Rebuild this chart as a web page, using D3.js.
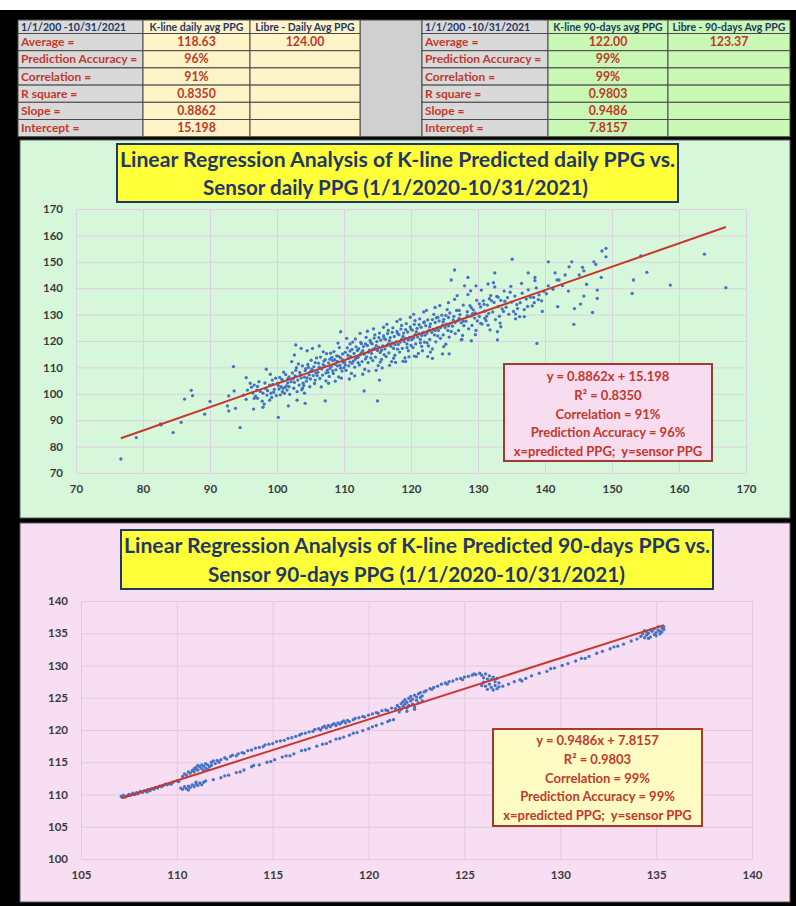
<!DOCTYPE html>
<html>
<head>
<meta charset="utf-8">
<script src="https://cdn.jsdelivr.net/npm/d3@7"></script>
<style>
  html, body { margin: 0; padding: 0; background: #000; }
  svg { display: block; }
</style>
</head>
<body>
<svg id="chart" width="796" height="906"></svg>
<script>
// ---------------- summary tables ----------------
const periodLabel = "1/1/200 -10/31/2021";
const statLabels = ["Average =", "Prediction Accuracy =", "Correlation =", "R square =", "Slope =", "Intercept ="];
const dailyHeaders = ["K-line daily avg PPG", "Libre - Daily Avg PPG"];
const dailyKline = ["118.63", "96%", "91%", "0.8350", "0.8862", "15.198"];
const dailyLibre = ["124.00", "", "", "", "", ""];
const ninetyHeaders = ["K-line 90-days avg PPG", "Libre - 90-days Avg PPG"];
const ninetyKline = ["122.00", "99%", "99%", "0.9803", "0.9486", "7.8157"];
const ninetyLibre = ["123.37", "", "", "", "", ""];

// ---------------- regression results ----------------
const dailySlope = 0.8862, dailyIntercept = 15.198, dailyR2 = 0.8350, dailyCorr = 91, dailyAcc = 96;
const ninetySlope = 0.9486, ninetyIntercept = 7.8157, ninetyR2 = 0.9803, ninetyCorr = 99, ninetyAcc = 99;

// ---------------- axis ticks ----------------
const dailyTicks = [70, 80, 90, 100, 110, 120, 130, 140, 150, 160, 170];
const ninetyTicks = [105, 110, 115, 120, 125, 130, 135, 140];
const ninetyYTicks = [100, 105, 110, 115, 120, 125, 130, 135, 140];

const dailyTitle = ["Linear Regression Analysis of K-line Predicted daily PPG vs.", "Sensor daily PPG (1/1/2020-10/31/2021)"];
const ninetyTitle = ["Linear Regression Analysis of K-line Predicted 90-days PPG vs.", "Sensor 90-days PPG (1/1/2020-10/31/2021)"];

// ---------------- daily PPG: [predicted, sensor] ----------------
const dailyPoints = [
[76.7,75.3],[79.0,83.4],[82.6,88.6],[82.7,88.2],[84.5,85.3],[85.7,89.2],[86.2,98.0],[87.2,101.3],[87.4,99.3],[89.2,92.3],
[90.0,97.1],[92.6,95.4],[92.8,99.2],[92.8,93.5],[93.5,110.3],[93.6,101.1],[93.8,94.5],[94.5,87.2],[95.0,99.5],[95.4,106.1],
[95.4,97.9],[95.6,101.4],[96.0,104.0],[96.5,94.2],[96.6,103.3],[96.6,98.3],[97.0,101.4],[97.1,98.3],[97.9,94.9],[98.1,96.1],
[97.9,100.2],[98.4,109.3],[98.5,99.5],[98.9,97.6],[98.9,103.3],[99.0,107.4],[99.1,100.2],[99.3,105.2],[100.1,104.0],[100.2,91.1],
[100.6,102.7],[100.8,100.8],[101.1,100.2],[101.5,101.4],[101.7,95.4],[101.8,102.7],[102.2,112.2],[102.6,114.7],[102.8,118.5],[103.0,97.6],
[103.0,100.8],[103.6,117.2],[103.8,102.1],[104.1,100.2],[104.2,96.4],[104.5,116.3],[105.3,117.2],[106.3,118.1],[107.2,97.3],[113.0,101.1],
[115.0,97.3],[115.3,105.2],[109.5,123.5],
[96.2,102.5],[96.8,99.1],[97.3,104.6],[97.5,100.9],[97.8,97.2],[96.4,100.3],[97.1,102.8],
[98.2,104.1],[98.6,101.2],[99.2,98.6],[99.4,103.6],[99.6,101.7],[99.8,105.9],[98.3,102.0],[99.9,99.4],[99.5,100.6],
[100.2,103.1],[100.4,106.2],[100.5,99.6],[100.9,104.9],[101.2,102.4],[101.3,107.3],[101.6,104.1],[101.9,99.8],[100.7,105.5],[101.4,103.0],[101.8,106.4],[100.3,101.8],[101.0,108.2],
[102.1,104.6],[102.3,107.9],[102.5,102.1],[102.7,106.8],[102.9,109.9],[103.1,105.2],[103.3,103.3],[103.4,108.1],[103.6,106.0],[103.8,110.6],[103.9,104.0],[102.4,105.7],[103.2,111.3],[103.7,101.5],[102.8,108.9],
[104.1,106.3],[104.3,109.5],[104.4,104.8],[104.6,111.1],[104.8,107.2],[105.0,105.6],[105.1,112.7],[105.3,108.6],[105.5,110.2],[105.6,103.9],[105.8,107.9],[105.9,113.6],[104.2,108.8],[104.9,102.7],[105.4,106.9],[105.7,111.8],[104.7,110.0],[105.2,109.3],
[106.1,108.2],[106.2,111.6],[106.4,105.8],[106.5,113.9],[106.7,109.4],[106.8,107.1],[107.0,112.4],[107.1,110.5],[107.3,104.9],[107.4,115.2],[107.5,109.0],[107.7,111.7],[107.8,106.6],[107.9,113.1],[106.3,110.1],[106.9,115.9],[107.6,108.1],[106.6,102.6],[107.2,112.9],[107.7,104.0],
[108.1,110.3],[108.2,113.8],[108.4,107.7],[108.5,116.0],[108.6,111.2],[108.8,109.1],[108.9,114.4],[109.0,112.3],[109.2,106.4],[109.3,117.5],[109.4,110.8],[109.5,113.6],[109.7,108.6],[109.8,115.1],[109.9,111.9],[108.3,112.6],[108.7,104.8],[109.1,119.2],[109.6,105.9],[108.0,115.4],[109.2,114.2],
[110.1,112.0],[110.2,115.7],[110.3,108.9],[110.5,117.4],[110.6,113.3],[110.7,110.6],[110.9,116.2],[111.0,114.1],[111.1,107.7],[111.3,119.6],[111.4,112.4],[111.5,115.3],[111.6,110.1],[111.8,117.8],[111.9,113.7],[110.4,121.0],[110.8,105.6],[111.2,111.5],[111.7,120.8],[110.0,109.9],[111.6,106.8],[110.9,118.9],
[112.1,113.8],[112.2,117.1],[112.3,110.9],[112.5,119.5],[112.6,115.6],[112.7,112.2],[112.9,117.9],[113.0,115.0],[113.1,109.3],[113.3,121.4],[113.4,114.0],[113.5,118.3],[113.6,111.8],[113.8,116.5],[113.9,120.2],[112.4,122.9],[112.8,107.4],[113.2,113.2],[113.7,108.6],[112.0,116.4],[113.5,123.7],[112.6,119.0],
[114.1,115.3],[114.2,118.9],[114.3,112.6],[114.5,121.1],[114.6,117.2],[114.7,113.9],[114.9,119.8],[115.0,116.4],[115.1,110.7],[115.3,123.0],[115.4,115.6],[115.5,120.3],[115.6,113.0],[115.8,118.1],[115.9,121.9],[114.4,124.6],[114.8,108.9],[115.2,117.7],[115.7,109.8],[114.0,119.4],[115.9,125.2],[114.6,122.3],[115.4,112.0],
[116.1,117.0],[116.2,120.6],[116.3,114.1],[116.5,122.8],[116.6,118.9],[116.7,115.5],[116.9,121.3],[117.0,118.0],[117.1,112.2],[117.3,125.0],[117.4,117.2],[117.5,121.7],[117.6,114.6],[117.8,119.7],[117.9,123.6],[116.4,126.3],[116.8,110.8],[117.2,119.2],[117.7,111.9],[116.0,121.0],[117.9,127.4],[116.6,124.0],[117.4,113.5],
[118.1,118.7],[118.2,122.4],[118.3,115.8],[118.5,124.5],[118.6,120.6],[118.7,117.2],[118.9,123.0],[119.0,119.8],[119.1,113.6],[119.3,126.6],[119.4,118.9],[119.5,123.4],[119.6,116.3],[119.8,121.4],[119.9,125.3],[118.4,128.2],[118.8,112.3],[119.2,121.0],[119.7,114.0],[118.0,122.9],[119.9,129.0],[118.6,125.9],[119.4,117.5],
[120.1,120.5],[120.2,124.1],[120.3,117.5],[120.5,126.3],[120.6,122.4],[120.7,118.9],[120.9,124.8],[121.0,121.5],[121.1,115.3],[121.3,128.4],[121.4,120.6],[121.5,125.2],[121.6,118.0],[121.8,123.2],[121.9,127.0],[120.4,130.1],[120.8,114.1],[121.2,122.7],[121.7,116.3],[120.0,124.5],[121.9,131.0],[120.6,127.7],[121.4,119.3],
[122.1,122.2],[122.2,125.8],[122.4,119.3],[122.5,128.0],[122.7,124.1],[122.8,120.6],[122.9,126.5],[123.1,123.3],[123.2,117.0],[123.4,130.1],[123.5,122.3],[123.6,127.0],[123.7,119.7],[123.9,125.0],[122.3,131.6],[122.9,115.8],[123.3,124.4],[123.8,128.8],[122.0,127.2],[123.6,132.7],[122.6,118.1],
[124.1,124.0],[124.2,127.6],[124.4,121.0],[124.6,129.8],[124.7,125.9],[124.8,122.3],[124.9,128.2],[125.1,125.1],[125.2,118.8],[125.4,131.9],[125.5,124.0],[125.6,128.9],[125.7,121.5],[125.9,126.7],[124.3,133.4],[124.9,117.9],[125.3,126.4],[125.8,130.6],[124.0,129.0],[125.6,134.5],
[126.2,125.6],[126.4,129.3],[126.6,122.8],[126.8,131.6],[127.0,127.7],[127.1,124.0],[127.3,130.0],[127.5,126.9],[127.6,120.6],[127.8,133.6],[127.9,125.8],[126.5,135.8],[127.2,128.6],[127.7,122.1],[126.9,137.2],[126.3,128.0],
[128.2,127.5],[128.4,131.1],[128.6,124.6],[128.8,133.4],[129.0,129.5],[129.1,125.9],[129.3,131.8],[129.5,128.7],[129.6,122.4],[129.8,135.4],[129.9,127.6],[128.5,137.6],[129.2,130.4],[128.9,139.0],[129.7,124.0],
[130.2,129.3],[130.4,132.9],[130.6,126.4],[130.8,135.2],[131.0,131.3],[131.2,127.7],[131.4,133.6],[131.6,130.5],[131.8,124.2],[131.9,137.2],[130.5,139.3],[131.3,129.4],[130.9,133.9],[131.7,136.0],
[132.2,131.0],[132.4,134.6],[132.6,128.1],[132.8,136.9],[133.0,133.0],[133.2,129.4],[133.4,135.4],[133.6,132.2],[133.9,138.9],[132.5,140.5],[133.3,126.8],[133.8,131.2],
[134.2,132.8],[134.4,136.4],[134.6,130.1],[134.8,138.5],[135.0,134.7],[135.3,131.2],[135.5,137.0],[135.8,133.8],[134.9,140.7],[135.6,128.4],
[136.3,134.5],[136.6,138.1],[136.9,131.9],[137.2,135.9],[137.5,139.4],[137.8,136.6],[136.5,141.8],[137.4,133.1],
[138.3,136.5],[138.7,140.1],[139.1,137.5],[139.5,135.2],[139.8,138.8],[138.5,142.9],
[126.5,146.9],[126.0,143.1],[128.5,144.1],[128.0,140.9],[129.7,140.9],[131.5,141.6],[132.5,145.8],[132.3,142.1],[135.1,151.0],[137.5,145.8],
[138.5,144.1],[140.5,150.0],[141.5,145.8],[143.0,145.0],[145.1,145.0],[140.5,140.9],[141.8,143.1],[142.1,143.1],[144.0,150.0],[143.6,148.1],
[145.6,147.9],[145.8,146.6],[147.3,150.0],[147.6,149.0],[148.4,144.1],[148.5,154.1],[149.1,155.1],[149.1,151.9],[153.2,143.1],[155.2,146.0],
[154.3,152.2],[158.7,141.2],[163.8,152.9],[167.0,140.2],[153.0,138.0],[147.8,139.3],[147.8,136.1],[145.8,137.0],[145.3,134.0],[144.4,132.3],
[147.1,130.8],[144.3,126.3],[143.5,138.9],[138.4,134.5],[139.0,135.7],[138.1,133.3],[135.6,130.2],[136.2,129.2],[136.9,129.2],[135.9,132.3],
[132.9,123.5],[133.4,125.4],[131.5,126.0],[130.4,126.7],[138.8,119.1],[132.9,120.4],[127.5,120.4],[129.0,120.1],[124.7,115.1],[125.7,115.1],
[122.5,114.1],[123.2,113.4],[119.2,112.2],[120.5,114.3],[140.2,137.9],[141.2,139.6],[142.6,141.0],[139.6,131.2],[141.9,133.0],[146.2,141.5],
[100.9,102.1],[101.6,105.6],[102.6,104.3],[103.5,107.2],[104.0,103.1],[104.5,106.0],[105.0,108.4],[105.7,105.2],[106.0,106.9],[106.4,109.9],
[106.9,111.0],[107.3,107.9],[107.9,109.6],[108.3,108.7],[108.6,112.9],[109.0,110.6],[109.5,109.7],[109.8,112.8],[110.2,110.9],[110.6,114.6],
[110.9,112.0],[111.2,116.8],[111.7,113.1],[112.1,111.8],[112.4,114.8],[112.8,116.3],[113.2,118.9],[113.6,115.7],[114.0,113.6],[114.3,116.8],
[114.8,118.2],[115.2,121.3],[115.6,116.5],[116.0,114.8],[116.4,118.2],[116.8,120.1],[117.2,123.3],[117.6,118.6],[118.0,116.9],[118.4,119.6],
[118.8,121.7],[119.2,124.3],[119.6,120.4],[120.0,118.3],[120.4,121.1],[120.8,123.5],[121.2,126.2],[121.6,122.1],[122.0,119.6],[122.4,123.0],
[122.8,125.4],[123.2,128.1],[123.6,124.0],[124.0,121.9],[124.4,125.1],[124.8,127.2],[125.2,129.7],[125.6,125.7],[126.0,123.6],[126.6,127.0],
[127.2,131.6],[127.8,127.5],[128.4,129.6],[129.0,132.6],[129.6,130.6],[130.2,134.1],[131.0,128.6],[132.0,135.3],[133.0,136.6],[134.0,135.1]
];

// ---------------- 90-days PPG: [predicted, sensor] ----------------
const ninetyPoints = [
[107.1,109.7],[107.2,109.9],[107.3,109.6],[107.4,109.8],[107.5,110.0],[107.6,109.9],[107.7,110.2],[107.8,110.0],[107.9,110.3],[108.0,110.2],
[108.1,110.5],[108.2,110.3],[108.3,110.6],[108.4,110.5],[108.5,110.8],[108.6,110.6],[108.7,110.9],[108.8,110.8],[108.9,111.1],[109.0,111.0],
[109.1,111.3],[109.2,111.2],[109.3,111.4],[109.5,111.5],[109.6,111.7],[109.7,111.6],[109.8,111.9],[110.0,112.1],[110.1,112.0],[109.4,111.6],
[108.45,110.4],[107.95,110.1],
[110.3,112.8],[110.4,113.2],[110.5,113.0],[110.6,113.5],[110.7,113.3],[110.8,113.7],[110.9,113.5],[111.0,113.9],[111.0,114.2],[111.1,113.8],
[111.2,114.3],[111.3,114.0],[111.3,114.6],[111.4,114.4],[111.5,114.1],[111.5,114.8],[111.6,114.6],[111.7,114.3],[111.8,115.0],[111.8,114.5],
[111.9,115.2],[112.0,114.8],[112.1,115.3],[112.2,115.0],[111.1,114.5],[110.9,114.0],[111.6,113.9],[111.4,113.7],
[110.2,111.0],[110.3,110.8],[110.4,111.2],[110.5,110.9],[110.6,111.3],[110.7,111.1],[110.8,111.5],[110.9,111.2],[111.0,111.6],[111.1,111.4],
[111.2,111.8],[111.3,111.5],[111.4,111.9],[111.5,112.1],[110.6,110.7],[111.0,111.9],
[111.9,112.3],[112.3,112.6],[112.7,113.0],[113.1,113.4],[113.5,113.8],[113.9,114.3],[114.3,114.6],[114.7,115.0],[115.1,115.4],[115.5,115.8],
[115.7,116.0],[116.1,116.3],[116.5,116.8],[116.9,117.1],[117.3,117.5],[117.6,117.8],[118.0,118.2],[118.3,118.6],[118.7,118.9],[119.0,119.2],
[119.4,119.6],[119.7,119.9],[120.0,120.2],[120.4,120.7],[120.7,121.0],[121.0,121.3],[121.3,121.6],[112.5,112.9],[113.3,113.5],[114.0,114.5],
[114.9,115.1],[115.9,116.0],[116.7,116.9],[117.8,117.9],[118.5,118.7],[119.2,119.5],[120.2,120.5],[121.1,121.5],
[112.3,115.4],[112.5,115.7],[112.6,115.5],[112.8,115.9],[112.9,116.1],[113.1,116.0],[113.2,116.3],[113.4,116.5],[113.5,116.4],[113.7,116.8],
[113.9,116.9],[114.1,117.2],[114.3,117.3],[114.5,117.4],[114.6,117.7],[114.8,117.8],[115.0,117.9],[115.2,118.2],[115.4,118.3],[115.6,118.4],
[115.8,118.7],[116.0,118.8],[116.2,119.0],[116.4,119.2],[116.5,119.4],[116.7,119.5],[116.9,119.7],[117.1,119.8],[117.2,120.1],[117.4,120.2],
[117.5,120.0],[117.6,120.4],[117.7,120.6],[117.8,120.3],[117.9,120.7],[118.0,120.5],[118.1,120.8],[118.2,121.0],[118.3,120.7],[118.4,121.1],
[118.5,120.9],[118.6,121.2],[118.7,121.4],[118.8,121.1],[118.9,121.5],[119.0,121.3],[119.2,121.6],[119.3,121.8],[119.5,121.9],[119.7,122.1],
[119.8,122.0],[120.0,122.3],[120.2,122.5],[120.4,122.7],[120.5,122.6],[120.7,123.0],[120.9,123.1],[121.0,123.0],[121.2,123.4],
[121.4,123.3],[121.5,123.8],[121.6,123.5],[121.7,124.1],[121.7,123.2],[121.8,124.4],[121.8,123.7],[121.9,124.0],[121.9,124.7],[122.0,123.4],
[122.0,124.3],[122.1,124.9],[122.1,123.8],[122.2,124.5],[122.2,125.2],[122.3,124.0],[122.3,124.8],[122.4,125.4],[122.4,123.6],[122.5,124.6],
[122.5,125.1],[122.6,125.6],[122.6,124.2],[122.7,125.0],[122.7,125.8],[122.8,124.5],[122.8,125.3],[122.9,125.9],[121.6,122.8],[122.0,122.9],
[122.4,123.2],
[123.0,126.1],[123.2,126.4],[123.4,126.6],[123.6,126.8],[123.8,127.1],[124.0,127.3],[124.2,127.5],[124.4,127.6],[124.6,127.9],[124.8,128.0],
[125.0,128.2],[125.2,128.3],[125.4,128.5],[125.6,128.6],[125.8,128.8],[123.3,126.3],[124.1,127.1],[124.9,127.8],[125.5,128.7],
[125.9,128.5],[126.0,128.1],[126.0,127.4],[126.1,128.7],[126.1,126.8],[126.2,127.9],[126.2,126.3],[126.3,128.4],[126.3,127.1],[126.4,126.6],
[126.4,127.8],[126.5,128.2],[126.5,126.2],[126.6,127.5],[126.6,126.9],[126.7,128.0],[126.7,126.4],[126.8,127.3],[126.8,126.7],[125.9,126.9],
[127.0,126.8],[127.3,127.1],[127.6,127.5],[127.9,127.8],[128.2,128.0],[128.5,128.4],[128.9,128.8],[129.3,129.1],[129.7,129.6],[130.1,130.0],
[130.4,130.3],[130.8,130.7],[131.1,131.1],[131.5,131.4],[131.9,131.9],[132.2,132.2],[132.6,132.6],[133.0,133.0],[133.3,133.3],[133.7,133.8],
[134.0,134.1],[128.0,127.6],[129.5,129.5],[131.3,131.1],[132.8,132.9],
[134.2,134.5],[134.3,134.9],[134.4,134.3],[134.5,135.2],[134.5,134.7],[134.6,135.0],[134.7,135.5],[134.7,134.4],[134.8,135.3],[134.9,134.8],
[134.9,135.7],[135.0,135.1],[135.0,134.6],[135.1,135.5],[135.1,136.0],[135.2,135.3],[135.2,134.9],[135.3,135.8],[135.3,135.2],[135.4,135.6],
[135.4,136.0],[134.4,135.4],[134.6,134.2]
];

// ---------------- styles ----------------
const FONT = "Lato, 'Open Sans', sans-serif";
const NAVY = "#1f3864";
const RED = "#c0392b";
const DOT = "#4472c4";
const FIT = "#c8372d";

const svg = d3.select("#chart");

// white strip at the very top
svg.append("rect").attr("x", 0).attr("y", 0).attr("width", 796).attr("height", 10).attr("fill", "#fff");

// ---------------- tables ----------------
const rowEdges = [20, 33.5, 50.7, 67.9, 85.1, 102.3, 119.5, 136.7];

function drawTable(cols, valueFill, headers, kline, libre) {
  const g = svg.append("g");
  const nRows = statLabels.length + 1;
  for (let r = 0; r < nRows; r++) {
    for (let c = 0; c < 3; c++) {
      g.append("rect")
        .attr("x", cols[c]).attr("y", rowEdges[r])
        .attr("width", cols[c + 1] - cols[c]).attr("height", rowEdges[r + 1] - rowEdges[r])
        .attr("fill", c === 0 ? "#d9d9d9" : valueFill)
        .attr("stroke", "#4a4a4a").attr("stroke-width", 1);
    }
  }
  // header row
  g.append("text").attr("x", cols[0] + 3).attr("y", rowEdges[1] - 3)
    .attr("font-family", FONT).attr("font-weight", 700).attr("font-size", 10.5)
    .attr("fill", NAVY).text(periodLabel);
  headers.forEach((h, i) => {
    g.append("text").attr("x", (cols[i + 1] + cols[i + 2]) / 2).attr("y", rowEdges[1] - 3)
      .attr("text-anchor", "middle")
      .attr("font-family", FONT).attr("font-weight", 700).attr("font-size", 10.5)
      .attr("fill", NAVY).text(h);
  });
  // stat rows
  statLabels.forEach((lab, i) => {
    const yb = rowEdges[i + 2] - 4.5;
    g.append("text").attr("x", cols[0] + 3).attr("y", yb)
      .attr("font-family", FONT).attr("font-weight", 700).attr("font-size", 12)
      .attr("fill", RED).text(lab);
    g.append("text").attr("x", (cols[1] + cols[2]) / 2).attr("y", yb).attr("text-anchor", "middle")
      .attr("font-family", FONT).attr("font-weight", 700).attr("font-size", 12.3)
      .attr("fill", RED).text(kline[i]);
    g.append("text").attr("x", (cols[2] + cols[3]) / 2).attr("y", yb).attr("text-anchor", "middle")
      .attr("font-family", FONT).attr("font-weight", 700).attr("font-size", 12.3)
      .attr("fill", RED).text(libre[i]);
  });
}

// grey spacer between the two tables
svg.append("rect").attr("x", 360).attr("y", 20).attr("width", 62).attr("height", 116.7)
  .attr("fill", "#d0d0d0").attr("stroke", "#4a4a4a");

drawTable([18, 143, 250, 360], "#fff3c8", dailyHeaders, dailyKline, dailyLibre);
drawTable([422, 548, 668, 790], "#c9f7b4", ninetyHeaders, ninetyKline, ninetyLibre);

// ---------------- scatter panel ----------------
function drawPanel(opt) {
  const g = svg.append("g");
  g.append("rect").attr("x", opt.panel[0]).attr("y", opt.panel[1])
    .attr("width", opt.panel[2]).attr("height", opt.panel[3])
    .attr("fill", opt.bg).attr("stroke", "#5a5a5a").attr("stroke-width", 1);

  const x = d3.scaleLinear().domain(opt.xDomain).range(opt.xRange);
  const y = d3.scaleLinear().domain(opt.yDomain).range(opt.yRange);
  const w = opt.xRange[1] - opt.xRange[0];
  const h = opt.yRange[0] - opt.yRange[1];

  // gridlines + tick labels
  const gy = g.append("g").attr("transform", `translate(${opt.xRange[0]},0)`)
    .call(d3.axisLeft(y).tickValues(opt.yTicks).tickSizeInner(-w).tickSizeOuter(0).tickPadding(13).tickFormat(d3.format("d")));
  const gx = g.append("g").attr("transform", `translate(0,${opt.yRange[0]})`)
    .call(d3.axisBottom(x).tickValues(opt.xTicks).tickSizeInner(-h).tickSizeOuter(0).tickPadding(12).tickFormat(d3.format("d")));
  [gx, gy].forEach(a => {
    a.select(".domain").remove();
    a.selectAll(".tick line").attr("stroke", opt.grid).attr("stroke-width", 1);
    a.selectAll(".tick text").attr("font-family", FONT).attr("font-weight", 700)
      .attr("font-size", 11.5).attr("fill", "#3a3a3a");
  });

  // points
  g.append("g").selectAll("circle").data(opt.points).join("circle")
    .attr("cx", d => x(d[0])).attr("cy", d => y(d[1])).attr("r", 1.65).attr("fill", DOT);

  // least-squares fit line over the range of predicted values
  const ext = d3.extent(opt.points, d => d[0]);
  const fit = ext.map(v => [v, opt.slope * v + opt.intercept]);
  g.append("path").datum(fit)
    .attr("d", d3.line().x(d => x(d[0])).y(d => y(d[1])))
    .attr("stroke", FIT).attr("stroke-width", 2).attr("fill", "none");

  // title box
  const tb = opt.titleBox;
  g.append("rect").attr("x", tb[0]).attr("y", tb[1]).attr("width", tb[2]).attr("height", tb[3])
    .attr("fill", "#ffff3a").attr("stroke", NAVY).attr("stroke-width", 2);
  opt.title.forEach((t, i) => {
    g.append("text").attr("x", opt.titleX[i]).attr("y", opt.titleY[i])
      .attr("font-family", FONT).attr("font-weight", 700).attr("font-size", 21)
      .attr("fill", NAVY)
      .attr("textLength", opt.titleW[i]).attr("lengthAdjust", "spacingAndGlyphs")
      .text(t);
  });

  // statistics box
  const sb = opt.statBox;
  g.append("rect").attr("x", sb[0]).attr("y", sb[1]).attr("width", sb[2]).attr("height", sb[3])
    .attr("fill", opt.statBg).attr("stroke", "#a4392f").attr("stroke-width", 2);
  const lines = [
    `y = ${opt.slope}x + ${opt.intercept}`,
    `R² = ${opt.r2.toFixed(4)}`,
    `Correlation = ${opt.corr}%`,
    `Prediction Accuracy = ${opt.acc}%`,
    "x=predicted PPG;  y=sensor PPG"
  ];
  lines.forEach((t, i) => {
    g.append("text").attr("x", sb[0] + sb[2] / 2).attr("y", opt.statY0 + i * 18.8)
      .attr("text-anchor", "middle").attr("xml:space", "preserve")
      .attr("font-family", FONT).attr("font-weight", 700).attr("font-size", 13)
      .attr("fill", RED).style("white-space", "pre").text(t);
  });
}

drawPanel({
  panel: [20, 140, 770, 378], bg: "#d6f7da", grid: "#ddd2e2",
  xDomain: [70, 170], xRange: [76, 746], yDomain: [70, 170], yRange: [473, 209],
  xTicks: dailyTicks, yTicks: dailyTicks,
  points: dailyPoints, slope: dailySlope, intercept: dailyIntercept,
  r2: dailyR2, corr: dailyCorr, acc: dailyAcc,
  titleBox: [117, 144, 561, 58], title: dailyTitle,
  titleX: [120, 203], titleY: [167, 195], titleW: [555, 385],
  statBox: [504, 364, 208, 97], statBg: "#f8dcf0", statY0: 381
});

drawPanel({
  panel: [20, 523, 770, 379], bg: "#f7def3", grid: "#e2cadf",
  xDomain: [105, 140], xRange: [81, 752], yDomain: [100, 140], yRange: [859, 601],
  xTicks: ninetyTicks, yTicks: ninetyYTicks,
  points: ninetyPoints, slope: ninetySlope, intercept: ninetyIntercept,
  r2: ninetyR2, corr: ninetyCorr, acc: ninetyAcc,
  titleBox: [121, 530, 592, 59], title: ninetyTitle,
  titleX: [124, 208], titleY: [553, 582], titleW: [586, 417],
  statBox: [493, 729, 209, 97], statBg: "#fefcc2", statY0: 745
});
</script>
</body>
</html>
